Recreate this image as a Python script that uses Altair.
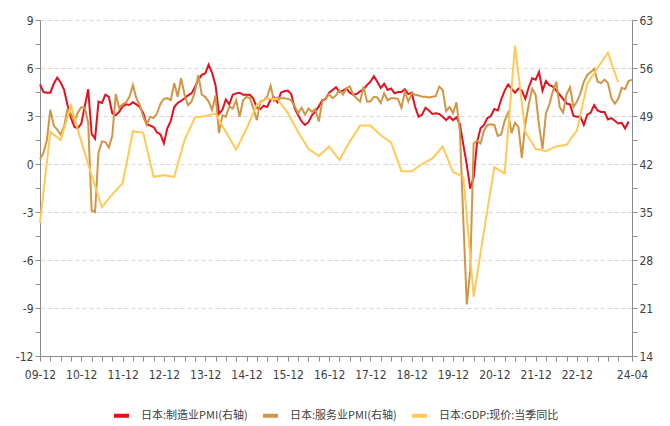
import altair as alt
import pandas as pd

# ---- categories -------------------------------------------------------------
months = pd.period_range("2009-12", "2024-04", freq="M").strftime("%Y-%m").tolist()

S_MFG = "日本:制造业PMI(右轴)"
S_SVC = "日本:服务业PMI(右轴)"
S_GDP = "日本:GDP:现价:当季同比"
series_names = [S_MFG, S_SVC, S_GDP]
series_colors = ["#E60F1E", "#D09646", "#FFC957"]

# ---- Japan manufacturing PMI (monthly, 2009-12 .. 2024-03) -----------------
mfg_pmi = [
    53.6,
    52.5, 52.4, 52.4, 53.7, 54.6, 53.9, 52.8, 50.6, 48.7, 47.4, 47.2, 47.9,
    50.4, 52.9, 46.4, 45.7, 51.1, 50.9, 52.1, 51.8, 49.4, 49.1, 49.6, 50.4,
    50.7, 50.6, 51.0, 50.7, 50.3, 49.4, 47.8, 47.6, 47.4, 46.6, 46.3, 45.0,
    47.2, 48.3, 50.3, 50.9, 51.2, 51.6, 52.0, 52.3, 53.2, 54.3, 55.0, 55.2,
    56.5, 55.3, 53.5, 49.3, 49.9, 51.4, 50.7, 52.1, 52.3, 52.4, 52.1, 52.1,
    52.1, 51.5, 50.2, 50.0, 50.5, 50.3, 51.4, 51.7, 51.0, 52.4, 52.6, 52.7,
    52.2, 50.1, 49.1, 48.2, 47.7, 48.1, 49.1, 49.6, 50.4, 51.3, 51.5, 52.4,
    52.8, 53.2, 52.5, 52.7, 53.0, 52.4, 52.1, 52.2, 52.6, 52.9, 53.5, 54.0,
    54.8, 54.0, 53.1, 53.7, 52.8, 53.0, 52.3, 52.5, 52.5, 52.9, 52.2, 52.4,
    50.3, 48.9, 49.2, 50.2, 49.8, 49.3, 49.4, 49.3, 48.9, 48.4, 48.9, 48.4,
    48.8, 47.8, 44.8, 41.9, 38.4, 40.1, 45.2, 47.2, 47.7, 48.7, 49.0, 50.0,
    49.8, 51.4, 52.7, 53.6, 53.0, 52.4, 53.0, 52.7, 51.5, 53.2, 54.5, 54.3,
    55.4, 52.7, 54.1, 53.5, 53.3, 52.7, 52.1, 51.5, 50.8, 50.7, 49.0, 48.9,
    48.9, 47.7, 49.2, 49.5, 50.6, 49.8, 49.6, 49.6, 48.5, 48.7, 48.3, 47.9,
    48.0, 47.2, 48.2,
]

# ---- Japan services PMI (monthly, 2009-12 .. 2024-04) ----------------------
svc_pmi = [
    42.7,
    43.6, 45.5, 49.9, 47.6, 47.0, 46.3, 47.5, 50.0, 49.3, 48.2, 49.5, 50.3,
    50.2, 48.0, 35.2, 35.0, 43.7, 45.3, 45.2, 44.4, 46.1, 52.2, 50.2, 50.7,
    51.0, 51.8, 53.5, 51.6, 50.6, 48.9, 47.7, 48.9, 48.7, 49.4, 50.8, 51.5,
    51.6, 51.3, 53.8, 51.8, 54.5, 52.1, 50.6, 51.1, 52.5, 55.0, 52.1, 51.8,
    51.1, 49.9, 52.0, 46.5, 49.1, 48.9, 50.4, 50.1, 51.3, 48.9, 51.3, 51.8,
    51.6, 50.1, 48.4, 51.1, 51.3, 51.8, 53.4, 51.2, 51.7, 51.6, 51.6, 51.5,
    51.3, 50.4, 49.4, 50.2, 49.2, 50.1, 49.6, 50.0, 48.2, 51.1, 51.6, 52.2,
    51.6, 52.0, 52.8, 52.1, 53.0, 53.3, 52.1, 51.6, 51.1, 53.3, 51.1, 51.1,
    51.8, 51.7, 50.9, 52.3, 51.3, 51.6, 51.6, 51.5, 50.2, 52.5, 51.1, 52.3,
    52.1, 52.0, 51.8, 51.8, 51.7, 51.8, 51.9, 53.3, 52.8, 49.7, 50.3, 49.4,
    51.0, 46.8, 33.8, 21.5, 26.5, 45.0, 45.4, 45.0, 46.9, 47.7, 47.8, 47.7,
    46.1, 46.3, 48.3, 49.5, 46.5, 48.0, 47.4, 42.9, 47.8, 50.7, 53.0, 52.1,
    47.6, 44.2, 49.4, 50.7, 52.6, 54.0, 50.3, 49.5, 52.2, 53.2, 50.3, 51.1,
    52.3, 54.0, 55.0, 55.4, 55.9, 54.0, 53.8, 54.3, 53.8, 51.6, 50.8, 51.5,
    53.1, 52.9, 54.1, 54.3,
]

# ---- Japan nominal GDP yoy (quarterly, 2009-Q4 .. 2023-Q4) -----------------
gdp_yoy = [
    -3.7,
    2.0, 1.5, 3.65, 1.4,
    -0.7, -2.7, -1.9, -1.2,
    2.05, 1.95, -0.8, -0.7,
    -0.8, 1.5, 2.9, 3.0,
    3.15, 2.0, 0.9, 2.2,
    3.7, 4.1, 4.05, 3.2,
    2.0, 0.95, 0.5, 1.1,
    0.25, 1.4, 2.4, 2.4,
    1.8, 1.35, -0.45, -0.45,
    0.0, 0.35, 1.1, -0.5,
    -0.8, -8.3, -4.2, -0.2,
    -0.6, 7.4, 2.0, 0.95,
    0.8, 1.1, 1.2, 2.1,
    5.0, 6.0, 6.95, 5.1,
]

# ---- tables ----------------------------------------------------------------
pmi_rows = []
for i, v in enumerate(mfg_pmi):
    pmi_rows.append({"idx": i, "month": months[i], "value": v, "series": S_MFG})
for i, v in enumerate(svc_pmi):
    pmi_rows.append({"idx": i, "month": months[i], "value": v, "series": S_SVC})
pmi_df = pd.DataFrame(pmi_rows)

gdp_df = pd.DataFrame({
    "idx": [3 * k for k in range(len(gdp_yoy))],
    "month": [months[3 * k] for k in range(len(gdp_yoy))],
    "value": gdp_yoy,
    "series": S_GDP,
})

LABEL_FONT = "Liberation Sans Narrow, DejaVu Sans Condensed, Noto Sans CJK SC, sans-serif"
AXIS_GRAY = "#8c8c8c"
TEXT_GRAY = "#404040"

x_ticks = list(range(0, 169, 3)) + [172]
x_label_expr = (
    "datum.value === 172 ? '24-04' : "
    "((datum.value % 12 === 0 && datum.value <= 156) ? "
    "(((datum.value / 12 + 9) < 10 ? '0' : '') + (datum.value / 12 + 9) + '-12') : '')"
)

x_enc = alt.X(
    "idx:Q",
    scale=alt.Scale(domain=[0, 172], nice=False, zero=False),
    axis=alt.Axis(
        values=x_ticks, labelExpr=x_label_expr, title=None, grid=False,
        labelFlush=False, labelOverlap=False, labelFont=LABEL_FONT,
        labelFontSize=12, labelColor=TEXT_GRAY, domainColor=AXIS_GRAY,
        tickColor=AXIS_GRAY, tickSize=5, labelPadding=8,
    ),
)

color_enc = alt.Color(
    "series:N",
    scale=alt.Scale(domain=series_names, range=series_colors),
    legend=alt.Legend(
        title=None, orient="none", direction="horizontal",
        legendX=72, legendY=386, symbolType="stroke", symbolStrokeWidth=4,
        symbolSize=225, labelFont="Noto Sans CJK SC", labelFontSize=11,
        labelColor=TEXT_GRAY, columnPadding=7, labelOffset=10,
    ),
)

left_vals = [-12 + 1.5 * k for k in range(15)]
right_vals = [14 + 3.5 * k for k in range(15)]

pmi_layer = alt.Chart(pmi_df).mark_line(strokeWidth=2).encode(
    x=x_enc,
    y=alt.Y(
        "value:Q",
        scale=alt.Scale(domain=[14, 63], nice=False, zero=False),
        axis=alt.Axis(
            orient="right", values=right_vals, grid=False, title=None,
            labelExpr="datum.value % 7 === 0 ? ('' + datum.value) : ''",
            labelFont=LABEL_FONT, labelFontSize=12, labelColor=TEXT_GRAY,
            domainColor=AXIS_GRAY, tickColor=AXIS_GRAY, tickSize=5,
            labelPadding=2,
        ),
    ),
    color=color_enc,
    detail="series:N",
)

gdp_layer = alt.Chart(gdp_df).mark_line(strokeWidth=2).encode(
    x=x_enc,
    y=alt.Y(
        "value:Q",
        scale=alt.Scale(domain=[-12, 9], nice=False, zero=False),
        axis=alt.Axis(
            orient="left", values=left_vals, grid=True, title=None,
            labelExpr="datum.value % 3 === 0 ? ('' + datum.value) : ''",
            gridOpacity={"condition": {"test": "datum.value % 3 === 0", "value": 1}, "value": 0},
            gridColor="#d6d6d6", gridDash=[4, 3], gridWidth=1,
            labelFont=LABEL_FONT, labelFontSize=12, labelColor=TEXT_GRAY,
            domainColor=AXIS_GRAY, tickColor=AXIS_GRAY, tickSize=5,
            labelPadding=2,
        ),
    ),
    color=color_enc,
)

chart = alt.layer(pmi_layer, gdp_layer).resolve_scale(
    y="independent"
).properties(
    width=592,
    height=336,
    autosize=alt.AutoSizeParams(type="none"),
    padding={"left": 32, "top": 12, "right": 30, "bottom": 70},
    background="white",
).configure_view(stroke="transparent")

chart.save("out.html", embed_options={"renderer": "svg", "actions": False})
